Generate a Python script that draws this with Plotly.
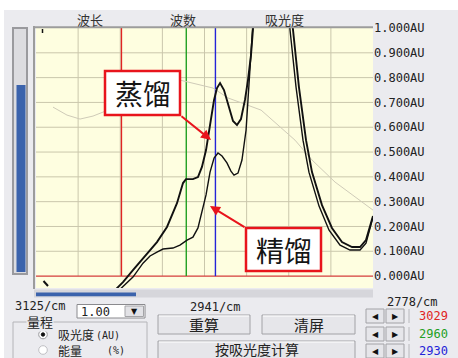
import plotly.graph_objects as go

W, H = 458, 358

# ---------------- data (wavenumber in cm^-1, absorbance in AU) ----------------
nu_dist = [3038.2, 3032.8, 3027.3, 3016.5, 3005.7, 2990.8, 2980.2, 2969.7, 2963.4, 2960.3,
           2953.1, 2947.9, 2943.8, 2939.6, 2935.5, 2931.4, 2928.4, 2925.3, 2921.3, 2916.2,
           2912.2, 2908.2, 2904.2, 2900.2, 2897.2, 2894.2, 2889.3, 2873.5, 2857.9, 2853.0,
           2847.3, 2840.5, 2834.8, 2825.3, 2815.9, 2806.5, 2797.1, 2789.7, 2784.2, 2777.8]
abs_dist = [-0.065, -0.044, -0.024, 0.024, 0.073, 0.137, 0.198, 0.294, 0.375, 0.391,
            0.391, 0.399, 0.440, 0.508, 0.609, 0.710, 0.758, 0.778, 0.750, 0.677,
            0.625, 0.609, 0.633, 0.710, 0.790, 0.891, 1.15, 1.6, 1.2, 0.992,
            0.762, 0.548, 0.419, 0.286, 0.194, 0.137, 0.117, 0.117, 0.145, 0.242]

nu_rect = [3033.9, 3025.2, 3016.5, 3005.7, 2998.2, 2990.8, 2984.4, 2973.9, 2966.6, 2959.2,
           2953.1, 2947.9, 2943.8, 2939.6, 2935.5, 2931.4, 2927.4, 2923.3, 2918.3, 2914.3,
           2911.2, 2907.2, 2903.2, 2899.1, 2897.2, 2895.2, 2892.2, 2890.2, 2874.5, 2858.8,
           2855.9, 2850.1, 2843.4, 2837.7, 2828.1, 2818.6, 2808.3, 2799.0, 2789.7, 2784.2, 2777.8]
abs_rect = [-0.065, -0.036, -0.004, 0.052, 0.081, 0.097, 0.109, 0.113, 0.125, 0.145,
            0.157, 0.194, 0.258, 0.327, 0.419, 0.476, 0.496, 0.484, 0.456, 0.423,
            0.407, 0.415, 0.468, 0.589, 0.710, 0.831, 0.992, 1.15, 1.55, 1.15,
            0.992, 0.762, 0.548, 0.419, 0.282, 0.185, 0.125, 0.105, 0.105, 0.133, 0.238]

nu_ref = [3105.4, 3089.5, 3074.8, 3060.3, 3049.2, 3008.9, 2966.6, 2932.5, 2917.2, 2884.2,
          2851.1, 2834.8, 2813.0, 2777.8]
abs_ref = [0.681, 0.649, 0.633, 0.645, 0.661, 0.730, 0.790, 0.758, 0.718, 0.669,
           0.548, 0.468, 0.379, 0.266]

marker_nu = [3029, 2960, 2930]
marker_colors = ["#e02424", "#22a022", "#2424d8"]
marker_labels = ["3029", "2960", "2930"]

y_ticks = [0.0, 0.1, 0.2, 0.3, 0.4, 0.5, 0.6, 0.7, 0.8, 0.9, 1.0]
y_ticktext = [f"{v:.3f}AU" for v in y_ticks]
x_edge_labels = ["3125/cm", "2941/cm", "2778/cm"]
top_labels = ["波长", "波数", "吸光度"]

# wavelength (um) axis: the instrument plots linearly in wavelength
lam_min, lam_max = 3.2, 3.6
def lam(nu_list):
    return [1e4 / n for n in nu_list]

PANEL = "#ebebef"
PLOTBG = "#fefee0"
GRID = "#cac7ac"
CJK = "Noto Sans CJK SC"
MONO = "DejaVu Sans Mono"

fig = go.Figure()
fig.add_trace(go.Scatter(x=lam(nu_ref), y=abs_ref, mode="lines",
                         line=dict(color="#cfcbb8", width=1), hoverinfo="skip"))
fig.add_trace(go.Scatter(x=lam(nu_rect), y=abs_rect, mode="lines", name="精馏",
                         line=dict(color="#111111", width=1.4)))
fig.add_trace(go.Scatter(x=lam(nu_dist), y=abs_dist, mode="lines", name="蒸馏",
                         line=dict(color="#111111", width=1.9)))

shapes = []
annotations = []

def prect(x0, y0, x1, y1, fill=None, line=None, lw=1, layer="above"):
    shapes.append(dict(type="rect", xref="paper", yref="paper",
                       x0=x0 / W, x1=x1 / W, y0=1 - y1 / H, y1=1 - y0 / H,
                       fillcolor=fill or "rgba(0,0,0,0)",
                       line=dict(color=line or "rgba(0,0,0,0)", width=lw if line else 0),
                       layer=layer))

def pline(x0, y0, x1, y1, color, lw=1, layer="above"):
    shapes.append(dict(type="line", xref="paper", yref="paper",
                       x0=x0 / W, x1=x1 / W, y0=1 - y0 / H, y1=1 - y1 / H,
                       line=dict(color=color, width=lw), layer=layer))

def pcircle(cx, cy, r, fill, line, lw=1):
    shapes.append(dict(type="circle", xref="paper", yref="paper",
                       x0=(cx - r) / W, x1=(cx + r) / W, y0=1 - (cy + r) / H, y1=1 - (cy - r) / H,
                       fillcolor=fill, line=dict(color=line, width=lw), layer="above"))

def ptext(x, y, text, size=12, color="#222222", family=CJK, xanchor="center", bg=None):
    d = dict(xref="paper", yref="paper", x=x / W, y=1 - y / H, text=text,
             showarrow=False, xanchor=xanchor, yanchor="middle", borderpad=0,
             font=dict(size=size, color=color, family=family))
    if bg:
        d["bgcolor"] = bg
    annotations.append(d)

# white outer margins of the screenshot
prect(0, 0, W, 10, fill="#ffffff", layer="below")
prect(0, 0, 4, H, fill="#ffffff", layer="below")

# grid lines (data coords), drawn below the traces
for k in range(1, 8):
    lx = lam_min + k * (lam_max - lam_min) / 8
    shapes.append(dict(type="line", xref="x", yref="y", x0=lx, x1=lx, y0=0, y1=1.0,
                       line=dict(color=GRID, width=1), layer="below"))
for v in y_ticks[1:-1]:
    shapes.append(dict(type="line", xref="x", yref="y", x0=lam_min, x1=lam_max, y0=v, y1=v,
                       line=dict(color=GRID, width=1), layer="below"))
# baseline
shapes.append(dict(type="line", xref="x", yref="y", x0=lam_min, x1=lam_max, y0=0, y1=0,
                   line=dict(color="#d43c3c", width=1.2), layer="below"))
# cursor lines
for n, c in zip(marker_nu, marker_colors):
    shapes.append(dict(type="line", xref="x", yref="y", x0=1e4 / n, x1=1e4 / n, y0=0, y1=1.0,
                       line=dict(color=c, width=1.4), layer="below"))

# plot frame
pline(34, 26, 34, 289, "#9c9c9c", 2)
pline(33, 27.2, 373, 27.2, "#9c9c9c", 2)
# small marks inside plot
pline(42.5, 29, 42.5, 33, "#111111", 1.5)
pline(43.5, 281, 48, 286, "#111111", 2)

# left slider
prect(13, 28, 27, 274, fill="#dcdce0", line="#9a9a9e", lw=2)
prect(16.5, 85, 25.5, 272, fill="#3b63ac")

# scrollbar
prect(34, 289.5, 373, 297.5, fill="#d6d6db")
prect(36, 292.5, 136, 296.2, fill="#3b63ac")

# label boxes
prect(105, 71, 180, 115, fill="#ffffff", line="#e8141c", lw=2.5)
prect(246, 228, 321, 271, fill="#ffffff", line="#e8141c", lw=2.5)
ptext(142.5, 93, "蒸馏", size=28, color="#151515")
ptext(283.5, 249.5, "精馏", size=28, color="#151515")
annotations.append(dict(xref="paper", yref="paper", x=211 / W, y=1 - 140 / H, text="",
                        showarrow=True, ax=-31, ay=-25, arrowhead=2, arrowsize=1,
                        arrowwidth=2, arrowcolor="#e8141c"))
annotations.append(dict(xref="paper", yref="paper", x=210 / W, y=1 - 206 / H, text="",
                        showarrow=True, ax=36, ay=22, arrowhead=2, arrowsize=1,
                        arrowwidth=2, arrowcolor="#e8141c"))

# top labels
ptext(90, 19, top_labels[0], size=13, color="#333333")
ptext(183, 19, top_labels[1], size=13, color="#333333")
ptext(284, 19, top_labels[2], size=13, color="#333333")

# wavenumber labels
ptext(40, 306, x_edge_labels[0], size=12, family=MONO)
ptext(215, 307, x_edge_labels[1], size=12, family=MONO)
ptext(412, 302, x_edge_labels[2], size=12, family=MONO)

# dropdown
prect(77, 304.5, 145, 318, fill="#ffffff", line="#8a8a8e", lw=1)
prect(125, 306, 143.5, 316.5, fill="#e2e2e6", line="#a4a4a8", lw=1)
ptext(80, 311.5, "1.00", size=12, family=MONO, xanchor="left")
ptext(134.5, 311.5, "▼", size=8, color="#111111", family="DejaVu Sans")

# group box
prect(13, 322, 147, 362, line="#b4b4b8", lw=1)
ptext(40, 321.5, "量程", size=13, color="#222222", bg=PANEL)
pcircle(43, 334.5, 4.3, "#ffffff", "#9a9a9e")
pcircle(43, 334.5, 1.7, "#111111", "#111111")
pcircle(43, 350, 4.3, "#ffffff", "#c0c0c4")
ptext(57, 334.5, "吸光度", size=12, xanchor="left")
ptext(95, 335, "(AU)", size=10, family=MONO, xanchor="left")
ptext(57, 350, "能量", size=12, xanchor="left")
ptext(106, 350, "(%)", size=10, family=MONO, xanchor="left")

# buttons
for (x0, y0, x1, y1, ty, t) in [(158, 315, 250, 334, 324.5, "重算"),
                                (262, 315, 355, 334, 324.5, "清屏"),
                                (158, 341, 355, 362, 348.5, "按吸光度计算")]:
    prect(x0, y0, x1, y1, fill="#e6e6ea", line="#a2a2a6", lw=1)
    pline(x0 + 1, y0 + 1, x1 - 1, y0 + 1, "#ffffff", 1)
    ptext((x0 + x1) / 2, ty, t, size=15 if y1 < 358 else 14, color="#222222")

# cursor step buttons and values
for yc, lbl, c in zip([316, 334, 351], marker_labels, marker_colors):
    prect(366, yc - 7, 384, yc + 7, fill="#e6e6ea", line="#a2a2a6", lw=1)
    prect(386, yc - 7, 404, yc + 7, fill="#e6e6ea", line="#a2a2a6", lw=1)
    ptext(375, yc, "◀", size=8, color="#111111", family="DejaVu Sans")
    ptext(395, yc, "▶", size=8, color="#111111", family="DejaVu Sans")
    pline(409, yc - 7, 409, yc + 7, "#b8b8bc", 1)
    ptext(433, yc, lbl, size=12, color=c, family=MONO)

fig.update_layout(
    width=W, height=H,
    margin=dict(l=0, r=0, t=0, b=0, autoexpand=False),
    paper_bgcolor=PANEL, plot_bgcolor=PLOTBG,
    showlegend=False,
    shapes=shapes, annotations=annotations,
    xaxis=dict(range=[lam_min, lam_max], domain=[36 / W, 373 / W], visible=False,
               fixedrange=True, automargin=False),
    yaxis=dict(range=[-0.048, 1.0], domain=[1 - 288 / H, 1 - 28 / H], side="right",
               tickvals=y_ticks, ticktext=y_ticktext, ticks="", showgrid=False,
               zeroline=False, showline=False, automargin=False,
               tickfont=dict(family=MONO, size=12, color="#222222"), fixedrange=True),
)

fig.write_html("out.html", config={"displayModeBar": False},
               post_script="document.body.style.margin='0';document.body.style.overflow='hidden';")
